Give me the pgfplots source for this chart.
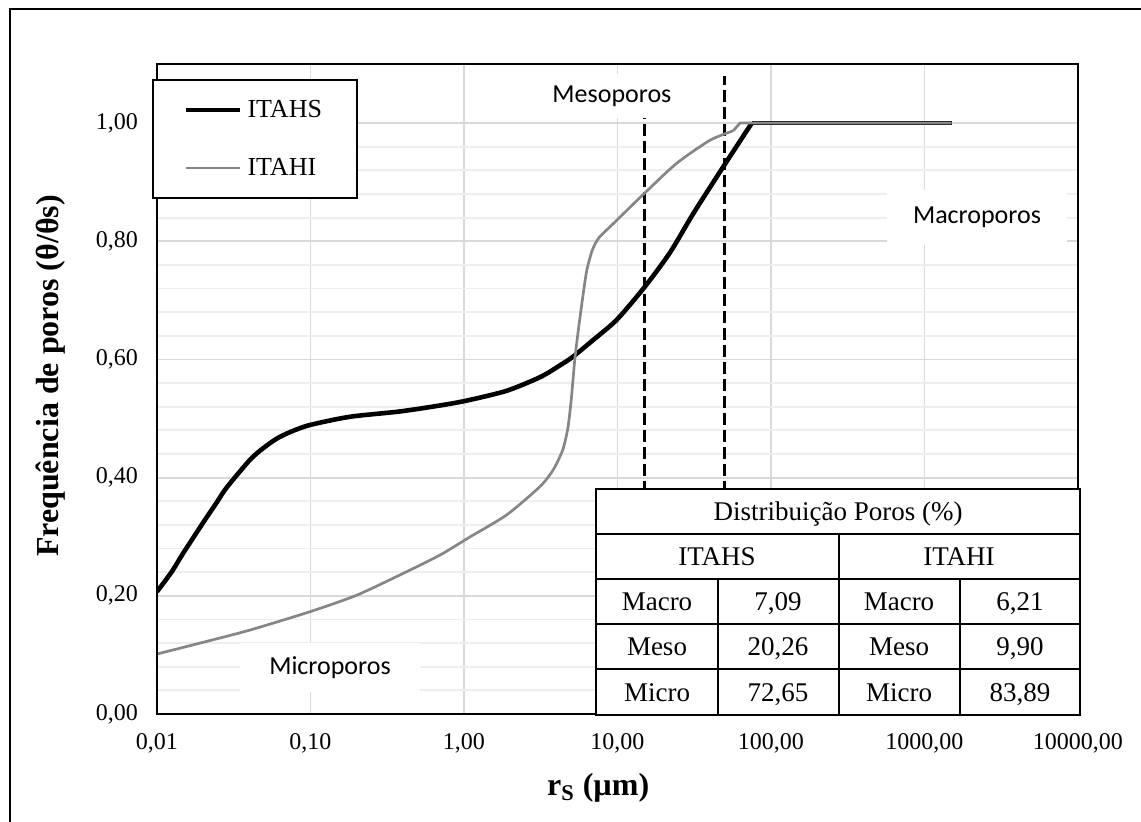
\documentclass[border=0pt]{standalone}
\usepackage{fontspec}
\setmainfont{Liberation Serif}
\newfontfamily\calibri{Carlito}
\usepackage{pgfplots}
\pgfplotsset{compat=1.18}

\definecolor{majgrid}{RGB}{217,217,217}
\definecolor{mingrid}{RGB}{238,238,238}
\definecolor{itahi}{RGB}{134,134,134}

% ITAHS: curved part, then the plateau at 1
\pgfplotstableread{
x y
0.01 0.207
0.0125 0.241
0.0148 0.272
0.020 0.324
0.0245 0.358
0.0284 0.383
0.0403 0.430
0.0493 0.450
0.0603 0.466
0.0735 0.477
0.099 0.489
0.181 0.503
0.383 0.512
0.733 0.523
1.07 0.531
1.90 0.547
3.13 0.570
4.22 0.590
5.15 0.605
6.95 0.633
9.88 0.667
14.96 0.722
22.0 0.781
31.2 0.847
49.7 0.929
75 1.0
}\itahs
\pgfplotstableread{
x y
75 1.0
1500 1.0
}\itahsflat

\pgfplotstableread{
x y
0.01 0.1015
0.0191 0.120
0.0403 0.142
0.099 0.173
0.200 0.201
0.402 0.238
0.698 0.269
1.10 0.300
1.90 0.337
3.13 0.385
3.81 0.413
4.40 0.447
4.76 0.485
5.01 0.535
5.27 0.600
5.56 0.650
5.90 0.700
6.30 0.750
6.79 0.782
7.20 0.797
7.69 0.808
9.40 0.830
14.96 0.881
24.3 0.932
40.1 0.971
56.8 0.987
}\itahi
\pgfplotstableread{
x y
56.8 0.987
62.8 1.0
1500 1.0
}\itahiflat

\begin{document}
\begin{tikzpicture}
\path[use as bounding box] (0,0) rectangle (570.5pt,411pt);
\draw[line width=0.9pt] (5pt,-5pt) -- (5pt,406.5pt) -- (580pt,406.5pt);

\begin{axis}[
  at={(78.5pt,54pt)}, anchor=south west,
  scale only axis, width=460.5pt, height=325pt,
  xmode=log, log basis x=10,
  xmin=0.01, xmax=10000, ymin=0, ymax=1.1,
  xtick={0.01,0.1,1,10,100,1000,10000},
  xticklabels={{0,01},{0,10},{1,00},{10,00},{100,00},{1000,00},{10000,00}},
  ytick={0,0.2,0.4,0.6,0.8,1},
  minor y tick num=4,
  yticklabel style={/pgf/number format/fixed, /pgf/number format/fixed zerofill,
    /pgf/number format/precision=2, /pgf/number format/use comma,
    /pgf/number format/assume math mode=true, xshift=-6pt},
  xticklabel style={yshift=-6pt},
  ticklabel style={font=\fontsize{12}{14}\selectfont},
  grid=both,
  major grid style={majgrid, line width=0.9pt},
  minor grid style={mingrid, line width=0.9pt},
  tick style={draw=none},
  axis line style={line width=1pt},
  label style={font=\fontsize{16}{19}\selectfont\bfseries},
  xlabel={r\textsubscript{S} (µm)},
  xlabel style={at={(axis description cs:0.479,-0.114)}, anchor=center},
  ylabel={Frequência de poros (θ/θs)},
  ylabel style={at={(axis description cs:-0.116,0.52)}, anchor=center},
  legend style={at={(-0.0054,0.977)}, anchor=north west, draw=black,
    line width=0.9pt, fill=white, inner xsep=15.5pt, inner ysep=8pt,
    row sep=15pt, column sep=0.5pt, font=\fontsize{13}{15}\selectfont},
  legend cell align=left,
  legend image code/.code={\draw[#1] (2.5pt,0pt) -- (29.5pt,0pt);},
]
\addplot[black, line width=1.3pt, dash pattern=on 6pt off 2.5pt, forget plot]
  coordinates {(15,0) (15,1.08)};
\addplot[black, line width=1.3pt, dash pattern=on 6pt off 2.5pt, forget plot]
  coordinates {(50,0) (50,1.08)};

\node[fill=white, font=\calibri\fontsize{13}{15}\selectfont, minimum width=90pt,
  minimum height=24.5pt, inner sep=0pt] at (axis cs:0.134,0.0787) {Microporos};
\node[fill=white, font=\calibri\fontsize{13}{15}\selectfont, minimum width=86pt,
  minimum height=22pt, inner sep=0pt] at (axis cs:9.2,1.045) {Mesoporos};
\node[fill=white, font=\calibri\fontsize{13}{15}\selectfont, minimum width=90pt,
  minimum height=27.5pt, inner sep=0pt] at (axis cs:2198,0.84) {Macroporos};

\addplot[black, line width=2.3pt, smooth, tension=0.45, line join=round] table[x=x, y=y] {\itahs};
\addlegendentry{ITAHS}
\addplot[black, line width=2.3pt, line join=round, forget plot] table[x=x, y=y] {\itahsflat};
\addplot[itahi, line width=1.35pt, smooth, tension=0.4, line join=round] table[x=x, y=y] {\itahi};
\addlegendentry{ITAHI}
\addplot[itahi, line width=1.35pt, line join=round, forget plot] table[x=x, y=y] {\itahiflat};

\draw[line width=1.3pt] (rel axis cs:0,1) -- (rel axis cs:0,0) -- (rel axis cs:1,0);
\end{axis}

% table of pore distribution, in pixel units of the reference
\begin{scope}[x=0.5pt, y=-0.5pt, shift={(0pt,411pt)}, line width=1pt,
  every node/.style={font=\fontsize{13.5}{16}\selectfont, anchor=base, inner sep=0pt}]
\fill[white] (596,489) rectangle (1080,715);
\draw (596,489) rectangle (1080,715);
\foreach \y in {534,579,624,669} \draw (596,\y) -- (1080,\y);
\draw (839,534) -- (839,715);
\draw (718,579) -- (718,715);
\draw (960,579) -- (960,715);
\node at (838,521) {Distribuição Poros (\%)};
\node at (717,566) {ITAHS};
\node at (959,566) {ITAHI};
\node at (657,611) {Macro}; \node at (778,611) {7,09};
\node at (899,611) {Macro}; \node at (1020,611) {6,21};
\node at (657,656) {Meso};  \node at (778,656) {20,26};
\node at (899,656) {Meso};  \node at (1020,656) {9,90};
\node at (657,702) {Micro}; \node at (778,702) {72,65};
\node at (899,702) {Micro}; \node at (1020,702) {83,89};
\end{scope}
\end{tikzpicture}
\end{document}
